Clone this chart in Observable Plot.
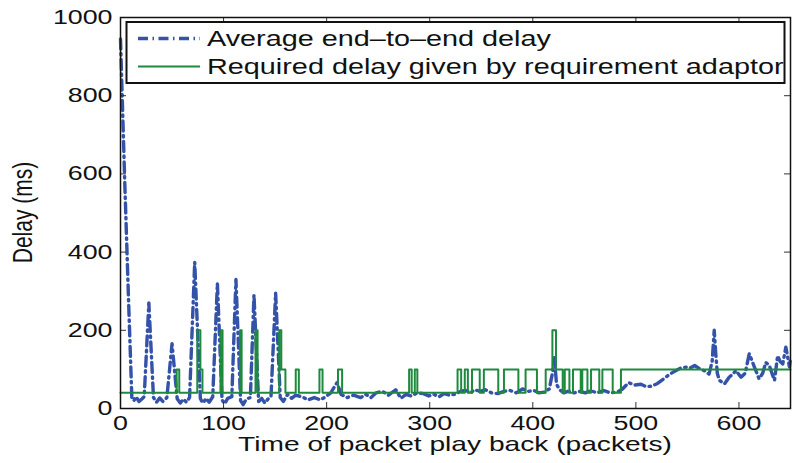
<!DOCTYPE html>
<html><head><meta charset="utf-8">
<script src="https://cdn.jsdelivr.net/npm/d3@7"></script>
<script src="https://cdn.jsdelivr.net/npm/@observablehq/plot@0.6"></script>
<style>body{margin:0;background:#fff} svg{display:block}</style>
</head><body><div id="chart"></div>
<script>
// ---- data ----
const avgX = [0,4,8,11,13,15,18,21,23,27.5,32,35,38,41,45,50,55,58,61,64,
  67,72,77.5,80,83,86,89.5,94,98.5,101,104,108,112,116.5,119,122,126,129.5,134,137,
  140,143,146,150.5,155,158,162,166,170,176,182,188,194,199,204,210,214,220,226,233,
  238,243,248,254,260,267,272,277,282,288,294,299,304,309,314,319,324,330,335,340,
  343,349,354,360,366,372,378,384,390,396,401,406,411,416,419,421,423,426,430,434,
  440,446,451,456,462,469,475,482,487,493,499,505,510,515,521,527,533,539,544,549,
  553,557,563,567,571,574,576,577.5,579,581,586,590.5,594,597,602,606,610,615,619.5,623,
  626,629.5,632,634.5,637.5,640,642.5,645.5,649,650];
const avgDelay = [945,590,262,28,20,30,18,25,30,270,28,16,27,18,28,166,25,14,24,16,
  28,374,25,14,26,16,30,320,22,12,26,30,330,20,10,24,28,291,18,26,
  14,24,30,295,28,18,36,26,34,30,22,28,22,30,40,66,36,28,34,28,
  36,28,40,44,34,48,26,36,32,40,38,32,36,30,38,34,36,44,46,40,
  48,44,48,40,38,44,46,40,50,44,46,40,42,50,90,130,62,48,40,44,
  40,44,40,46,40,46,40,42,50,66,60,62,56,57,64,76,88,97,104,106,
  104,110,100,96,88,120,200,140,90,72,63,80,88,97,80,90,140,106,76,90,
  118,110,90,72,135,120,114,157,106,130];
const reqX = [0,54.5,57,74.5,77.5,79.5,97,99,116,117.5,131,133,154,156,160,170,173,193,196,211,
  215,280,282.5,285.5,288,327,330.5,334,337,341,348.5,352.5,366.5,372,386,393,404,412.5,419,422.5,
  429,431,435.5,439,446.5,448,453,456.5,464.5,467.5,477.5,485.5,650];
const reqDelay = [40,100,40,200,100,40,200,40,200,40,200,40,200,100,40,100,40,100,40,100,
  40,100,40,100,40,100,40,100,40,100,40,100,40,100,40,100,40,100,200,100,
  40,100,40,100,40,100,40,100,40,100,40,100,100];
const xTicks = [0,100,200,300,400,500,600];
const yTicks = [0,200,400,600,800,1000];
const seriesNames = ["Average end\u2013to\u2013end delay", "Required delay given by requirement adaptor"];
const xTitle = "Time of packet play back (packets)";
const yTitle = "Delay (ms)";

// ---- layout ----
const W = 792, H = 463, mL = 120, mR = 2, mT = 17, mB = 55;
const blue = "#3452a8", green = "#1d8a3e";
const FONT = "'Liberation Sans', Arial, Helvetica, sans-serif";
const STRETCH = 1.34;
const DASH = "10,4.5,1.5,4.5";
const xDom = [0, 650], yDom = [0, 1000];
const tickLenY = 6 / (H - mT - mB) * (yDom[1] - yDom[0]);
const tickLenX = 6 / (W - mL - mR) * (xDom[1] - xDom[0]);

const avg = avgX.map((x, i) => ({x, y: avgDelay[i]}));
const req = reqX.map((x, i) => ({x, y: reqDelay[i]}));

const svg = Plot.plot({
  width: W, height: H, marginLeft: mL, marginRight: mR, marginTop: mT, marginBottom: mB,
  style: {fontFamily: FONT, fontSize: "20px", color: "#111", background: "#fff"},
  x: {domain: xDom},
  y: {domain: yDom},
  marks: [
    Plot.axisX({ticks: xTicks, tickSize: 0, tickPadding: 7, label: null, tickFormat: d => String(d), fontSize: 20}),
    Plot.axisY({ticks: yTicks, tickSize: 0, tickPadding: 8, label: null, tickFormat: d => String(d), fontSize: 20}),
    Plot.line(avg, {x: "x", y: "y", stroke: blue, strokeWidth: 3.4, strokeDasharray: DASH}),
    Plot.line(req, {x: "x", y: "y", stroke: green, strokeWidth: 2, curve: "step-after"}),
    Plot.ruleX(xTicks, {x: d => d, y1: yDom[0], y2: yDom[0] + tickLenY, stroke: "#333"}),
    Plot.ruleX(xTicks, {x: d => d, y1: yDom[1] - tickLenY, y2: yDom[1], stroke: "#333"}),
    Plot.ruleY(yTicks, {y: d => d, x1: xDom[0], x2: xDom[0] + tickLenX, stroke: "#333"}),
    Plot.ruleY(yTicks, {y: d => d, x1: xDom[1] - tickLenX, x2: xDom[1], stroke: "#333"}),
    Plot.frame({stroke: "#111", strokeWidth: 1.5})
  ]
});
document.getElementById("chart").appendChild(svg);

const s = d3.select(svg);
// axis titles
s.append("text").attr("x", (mL + W - mR) / 2).attr("y", 451).attr("text-anchor", "middle")
  .attr("class", "stretch").style("font", `21px ${FONT}`).attr("fill", "#111").text(xTitle);
s.append("text").attr("transform", `translate(32,${(mT + H - mB) / 2}) scale(${STRETCH},1) rotate(-90)`)
  .attr("text-anchor", "middle").style("font", `21px ${FONT}`).attr("fill", "#111").text(yTitle);

// legend
const lg = s.append("g");
lg.append("rect").attr("x", 126.5).attr("y", 22).attr("width", 658).attr("height", 61)
  .attr("fill", "#fff").attr("stroke", "#111").attr("stroke-width", 2);
const rows = [{c: blue, w: 3.4, dash: DASH, y: 38.5}, {c: green, w: 2, dash: null, y: 66.5}];
rows.forEach((r, i) => {
  lg.append("line").attr("x1", 138).attr("x2", 200).attr("y1", r.y).attr("y2", r.y)
    .attr("stroke", r.c).attr("stroke-width", r.w).attr("stroke-dasharray", r.dash);
  lg.append("text").attr("x", 207).attr("y", r.y + 7.5).attr("class", "stretch")
    .attr("text-anchor", "start")
    .style("font", `21.5px ${FONT}`).attr("fill", "#111").text(seriesNames[i]);
});

// horizontal stretch of text, as in the reference
svg.querySelectorAll('g[aria-label$="tick label"] text, text.stretch').forEach(t => {
  const L = t.getComputedTextLength();
  t.setAttribute("textLength", L * STRETCH);
  t.setAttribute("lengthAdjust", "spacingAndGlyphs");
});
</script>
</body></html>
